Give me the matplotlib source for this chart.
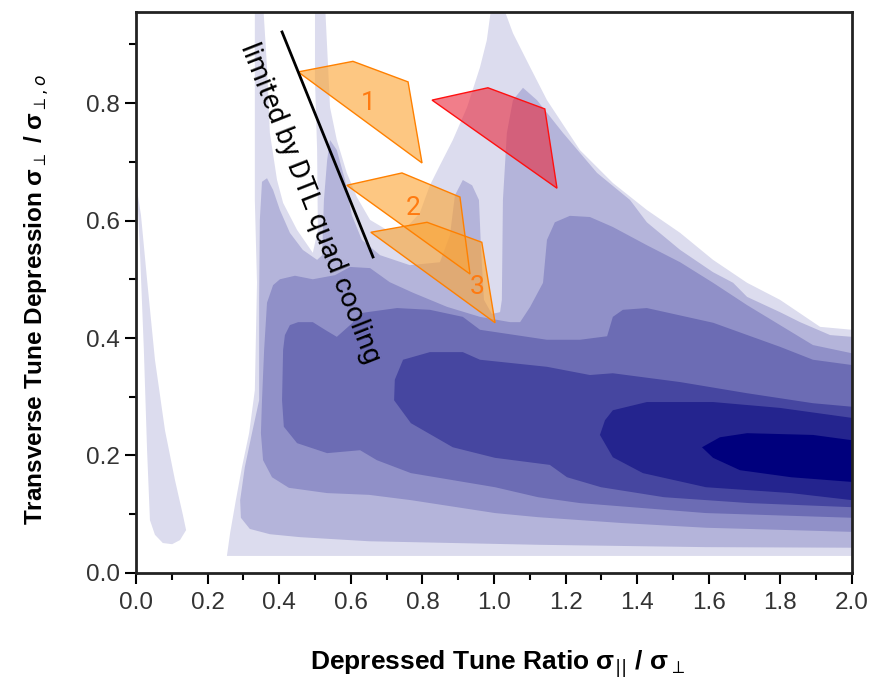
import matplotlib.pyplot as plt
from matplotlib.ticker import MultipleLocator

plt.rcParams['font.family'] = ['Liberation Sans', 'DejaVu Sans']

# stability contour levels (outlines), light -> dark
lvl1_x = [0.254, 2.0, 2.0, 1.911, 1.799, 1.707, 1.612, 1.520, 1.427, 1.332, 1.240, 1.148, 1.101, 1.053,
          1.022, 0.994, 0.980, 0.961, 0.925, 0.885, 0.849, 0.821, 0.793, 0.757, 0.701, 0.654, 0.617,
          0.589, 0.561, 0.542, 0.528, 0.500, 0.500, 0.506, 0.508, 0.494, 0.450, 0.411, 0.394, 0.374,
          0.366, 0.355, 0.332, 0.332, 0.338, 0.332, 0.316, 0.296, 0.279, 0.263]
lvl1_y = [0.029, 0.029, 0.414, 0.419, 0.465, 0.494, 0.533, 0.579, 0.618, 0.664, 0.720, 0.805, 0.861, 0.919,
          0.97, 0.97, 0.907, 0.861, 0.793, 0.737, 0.694, 0.660, 0.613, 0.589, 0.584, 0.601, 0.640,
          0.681, 0.737, 0.793, 0.97, 0.97, 0.839, 0.720, 0.584, 0.545, 0.584, 0.630, 0.669, 0.749,
          0.861, 0.97, 0.97, 0.635, 0.494, 0.311, 0.238, 0.180, 0.124, 0.068]

finger_x = [0.003, 0.011, 0.022, 0.031, 0.039, 0.053, 0.075, 0.101, 0.123, 0.140, 0.131, 0.109, 0.081,
            0.053, 0.031, 0.014]
finger_y = [0.652, 0.550, 0.380, 0.209, 0.090, 0.065, 0.051, 0.049, 0.056, 0.073, 0.099, 0.158, 0.243,
            0.363, 0.499, 0.609]

lvl2_x = [0.352, 0.346, 0.344, 0.344, 0.324, 0.304, 0.291, 0.293, 0.318, 0.374, 0.458, 0.651, 1.123, 1.592,
          2.0, 2.0, 1.939, 1.855, 1.799, 1.707, 1.668, 1.612, 1.520, 1.427, 1.380, 1.288, 1.193, 1.120,
          1.081, 1.053, 1.036, 1.025, 1.022, 1.017, 0.994, 0.972, 0.964, 0.958, 0.939, 0.913, 0.891,
          0.877, 0.849, 0.765, 0.682, 0.631, 0.603, 0.584, 0.561, 0.542, 0.534, 0.525, 0.520, 0.506,
          0.466, 0.430, 0.402, 0.383, 0.366]
lvl2_y = [0.666, 0.601, 0.465, 0.294, 0.238, 0.180, 0.124, 0.094, 0.075, 0.066, 0.061, 0.054, 0.048, 0.044,
          0.043, 0.402, 0.405, 0.427, 0.444, 0.470, 0.494, 0.512, 0.550, 0.597, 0.635, 0.681, 0.749, 0.805,
          0.826, 0.805, 0.749, 0.635, 0.465, 0.444, 0.441, 0.465, 0.550, 0.635, 0.660, 0.669, 0.643,
          0.575, 0.529, 0.524, 0.541, 0.567, 0.609, 0.669, 0.720, 0.737, 0.703, 0.635, 0.541, 0.533,
          0.550, 0.579, 0.618, 0.652, 0.672]

lvl3_x = [0.366, 0.358, 0.352, 0.349, 0.355, 0.380, 0.427, 0.534, 0.651, 0.768, 1.003, 1.123, 1.358, 1.592,
          2.0, 2.0, 1.891, 1.799, 1.707, 1.612, 1.520, 1.427, 1.332, 1.268, 1.212, 1.170, 1.148, 1.137,
          1.101, 1.073, 1.045, 0.961, 0.869, 0.774, 0.709, 0.654, 0.598, 0.556, 0.494, 0.444, 0.402, 0.383]
lvl3_y = [0.460, 0.380, 0.294, 0.238, 0.192, 0.163, 0.145, 0.136, 0.133, 0.124, 0.102, 0.095, 0.085, 0.077,
          0.070, 0.374, 0.388, 0.422, 0.456, 0.494, 0.529, 0.558, 0.589, 0.606, 0.608, 0.597, 0.567, 0.494,
          0.453, 0.427, 0.427, 0.436, 0.453, 0.477, 0.495, 0.519, 0.521, 0.507, 0.500, 0.506, 0.500, 0.490]

lvl4_x = [0.416, 0.411, 0.408, 0.413, 0.450, 0.534, 0.626, 0.673, 0.768, 1.003, 1.123, 1.240, 1.592, 2.0,
          2.0, 1.891, 1.799, 1.612, 1.427, 1.360, 1.332, 1.316, 1.240, 1.148, 0.961, 0.913, 0.821, 0.729,
          0.634, 0.598, 0.561, 0.528, 0.494, 0.453, 0.430]
lvl4_y = [0.405, 0.380, 0.294, 0.249, 0.221, 0.204, 0.209, 0.192, 0.170, 0.146, 0.129, 0.119, 0.102, 0.094,
          0.354, 0.363, 0.385, 0.426, 0.451, 0.448, 0.436, 0.403, 0.397, 0.397, 0.414, 0.436, 0.448, 0.451,
          0.443, 0.422, 0.402, 0.414, 0.427, 0.427, 0.422]

lvl5_x = [0.723, 0.721, 0.768, 0.885, 1.003, 1.156, 1.204, 1.299, 1.475, 1.712, 2.0, 2.0, 1.891, 1.707,
          1.520, 1.332, 1.268, 1.148, 0.961, 0.913, 0.821, 0.746]
lvl5_y = [0.329, 0.294, 0.255, 0.214, 0.196, 0.184, 0.163, 0.146, 0.129, 0.119, 0.112, 0.283, 0.289, 0.306,
          0.325, 0.340, 0.337, 0.351, 0.363, 0.376, 0.376, 0.363]

lvl6_x = [1.296, 1.310, 1.332, 1.427, 1.612, 1.799, 2.0, 2.0, 1.830, 1.592, 1.416, 1.332]
lvl6_y = [0.235, 0.260, 0.277, 0.291, 0.291, 0.281, 0.264, 0.124, 0.136, 0.146, 0.170, 0.197]

lvl7_x = [1.581, 1.631, 1.707, 1.891, 2.0, 2.0, 1.830, 1.687, 1.612]
lvl7_y = [0.214, 0.231, 0.238, 0.235, 0.226, 0.155, 0.163, 0.175, 0.196]

level_colors = ['#dcdcee', '#b4b4da', '#9090c8', '#6c6cb4', '#4646a0', '#24248e', '#00007d']

# working points
wp1_x = [0.453, 0.606, 0.760, 0.799]
wp1_y = [0.853, 0.871, 0.836, 0.698]
wp2_x = [0.589, 0.743, 0.905, 0.933]
wp2_y = [0.660, 0.681, 0.640, 0.509]
wp3_x = [0.656, 0.813, 0.966, 1.003]
wp3_y = [0.580, 0.597, 0.563, 0.426]
red_x = [0.827, 0.983, 1.142, 1.176]
red_y = [0.805, 0.826, 0.790, 0.655]
wp_labels = ['1', '2', '3']
wp_label_pos = [(0.648, 0.800), (0.774, 0.621), (0.953, 0.487)]

# DTL quad cooling limit
limit_x = [0.408, 0.662]
limit_y = [0.921, 0.538]

fig = plt.figure(figsize=(8.75, 6.78), dpi=100)
ax = fig.add_axes([0.1554, 0.1549, 0.8183, 0.8274])

outlines = [(lvl1_x, lvl1_y), (lvl2_x, lvl2_y), (lvl3_x, lvl3_y), (lvl4_x, lvl4_y),
            (lvl5_x, lvl5_y), (lvl6_x, lvl6_y), (lvl7_x, lvl7_y)]
ax.fill(finger_x, finger_y, color=level_colors[0], lw=0, zorder=1)
for (xs, ys), c in zip(outlines, level_colors):
    ax.fill(xs, ys, color=c, lw=0, zorder=1)

for xs, ys in [(wp1_x, wp1_y), (wp2_x, wp2_y), (wp3_x, wp3_y)]:
    ax.fill(xs, ys, facecolor='#fca535', alpha=0.62, edgecolor='none', zorder=3)
    ax.fill(xs, ys, facecolor='none', edgecolor='#ff8000', lw=1.0, zorder=4)
ax.fill(red_x, red_y, facecolor='#e8283c', alpha=0.6, edgecolor='none', zorder=3)
ax.fill(red_x, red_y, facecolor='none', edgecolor='#ff1010', lw=1.0, zorder=4)

for lab, (lx, ly) in zip(wp_labels, wp_label_pos):
    ax.text(lx, ly, lab, color='#ff7a10', fontsize=19, family='Roboto',
            ha='center', va='center', zorder=5)

ax.plot(limit_x, limit_y, color='black', lw=2.0, zorder=5)
ax.text(0.486, 0.630, 'limited by DTL quad cooling', rotation=-68.5, fontsize=20,
        family='Roboto', ha='center', va='center', rotation_mode='anchor', zorder=5)

ax.set_xlim(0, 2.0)
ax.set_ylim(0, 0.955)
ax.xaxis.set_major_locator(MultipleLocator(0.2))
ax.xaxis.set_minor_locator(MultipleLocator(0.1))
ax.yaxis.set_major_locator(MultipleLocator(0.2))
ax.yaxis.set_minor_locator(MultipleLocator(0.1))
ax.tick_params(which='major', direction='out', length=8, width=1.5, labelsize=17.5,
               labelcolor='#333333', top=False, right=False)
ax.tick_params(axis='x', which='major', pad=6)
ax.tick_params(which='minor', direction='out', length=5, width=1.5, top=False, right=False)
for s in ax.spines.values():
    s.set_linewidth(2.0)
    s.set_color('#222222')

ax.set_xlabel('Depressed Tune Ratio σ$_{||}$ / σ$_{\\perp}$', fontsize=19, fontweight='bold')
ax.set_ylabel('Transverse Tune Depression σ$_{\\perp}$ / σ$_{\\perp,o}$', fontsize=17.5, fontweight='bold')
ax.xaxis.set_label_coords(0.505, -0.135)
ax.yaxis.set_label_coords(-0.118, 0.487)

fig.savefig('out.png', dpi=100)
